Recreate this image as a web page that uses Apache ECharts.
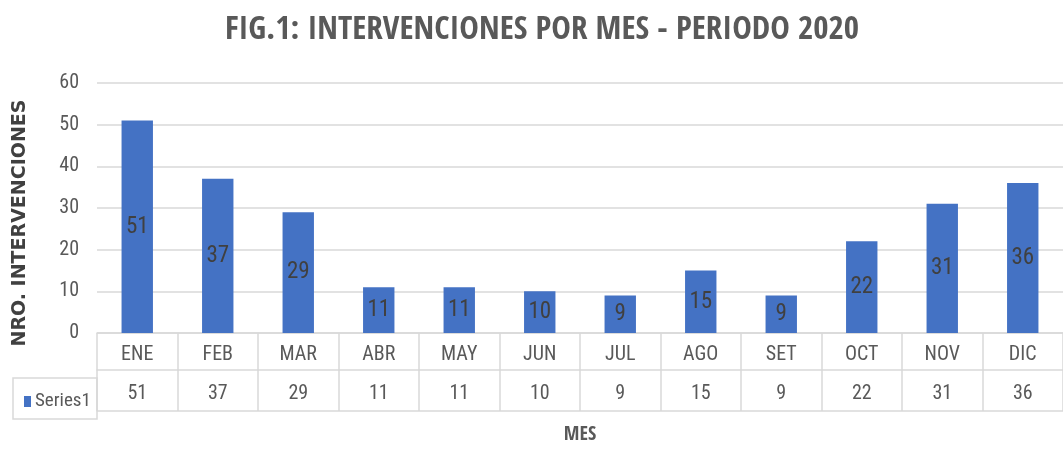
<!DOCTYPE html>
<html>
<head>
<meta charset="utf-8">
<title>Intervenciones por mes</title>
<script src="https://cdn.jsdelivr.net/npm/echarts@6/dist/echarts.min.js"></script>
<style>
  html, body { margin: 0; padding: 0; background: #fff; }
  #chart { width: 1063px; height: 450px; }
</style>
</head>
<body>
<div id="chart"></div>
<script>
  // datos de la figura
  var meses = ['ENE', 'FEB', 'MAR', 'ABR', 'MAY', 'JUN', 'JUL', 'AGO', 'SET', 'OCT', 'NOV', 'DIC'];
  var intervenciones = [51, 37, 29, 11, 11, 10, 9, 15, 9, 22, 31, 36];
  var serieNombre = 'Series1';

  var cond = '"Roboto Condensed", "Open Sans Condensed", sans-serif';
  var titulo = '"Open Sans Condensed", "Roboto Condensed", sans-serif';
  var gris = '#595959';
  var borde = '#d9d9d9';

  var chart = echarts.init(document.getElementById('chart'));

  var option = {
    animation: false,
    title: {
      text: 'FIG.1: INTERVENCIONES POR MES - PERIODO 2020',
      left: 537,
      top: 9,
      textAlign: 'center',
      textStyle: {
        fontFamily: titulo,
        fontWeight: 'bold',
        fontSize: 33,
        color: gris
      }
    },
    legend: {
      left: 19,
      top: 387,
      icon: 'rect',
      itemWidth: 7,
      itemHeight: 11,
      itemGap: 4,
      data: [serieNombre],
      textStyle: {
        fontFamily: cond,
        fontSize: 19,
        color: gris,
        padding: [0, 0, 0, -1]
      }
    },
    grid: {
      left: 97,
      right: -8,
      top: 83,
      bottom: 109,
      containLabel: false
    },
    xAxis: [
      {
        type: 'category',
        data: meses,
        position: 'bottom',
        axisLine: { show: true, lineStyle: { color: borde, width: 1.5 } },
        axisTick: { show: true, interval: 0, length: 78, lineStyle: { color: borde, width: 1.5 } },
        axisLabel: {
          margin: 12,
          interval: 0,
          fontFamily: cond,
          fontSize: 20,
          color: gris
        }
      },
      {
        // fila de valores de la tabla
        type: 'category',
        data: meses,
        position: 'bottom',
        offset: 37,
        axisLine: { show: true, lineStyle: { color: borde, width: 1.5 } },
        axisTick: { show: false },
        axisLabel: {
          margin: 14,
          interval: 0,
          fontFamily: cond,
          fontSize: 20,
          color: gris,
          formatter: function (val, idx) {
            return String(intervenciones[idx]);
          }
        }
      },
      {
        type: 'category',
        data: meses,
        position: 'bottom',
        offset: 78,
        axisLine: { show: true, lineStyle: { color: borde, width: 1.5 } },
        axisTick: { show: false },
        axisLabel: { show: false },
        name: 'MES',
        nameLocation: 'middle',
        nameGap: 14,
        nameTextStyle: {
          fontFamily: titulo,
          fontWeight: 'bold',
          fontSize: 20,
          color: gris
        }
      }
    ],
    yAxis: {
      type: 'value',
      min: 0,
      max: 60,
      interval: 10,
      axisLine: { show: false },
      axisTick: { show: false },
      splitLine: { lineStyle: { color: borde, width: 1.5 } },
      axisLabel: {
        margin: 18,
        fontFamily: cond,
        fontSize: 20,
        color: gris
      },
      name: 'NRO. INTERVENCIONES',
      nameLocation: 'middle',
      nameGap: 67,
      nameTextStyle: {
        fontFamily: '"DejaVu Sans", Verdana, sans-serif',
        fontWeight: 'bold',
        fontSize: 19,
        color: '#404040',
        padding: [0, 30, 0, 0]
      }
    },
    graphic: [
      {
        // celda de la leyenda en la tabla
        type: 'rect',
        shape: { x: 13, y: 378, width: 84, height: 41 },
        style: { fill: 'none', stroke: borde, lineWidth: 1.5 },
        silent: true
      }
    ],
    series: [
      {
        name: serieNombre,
        type: 'bar',
        data: intervenciones,
        barWidth: '39%',
        itemStyle: { color: '#4472c4' },
        label: {
          show: true,
          position: 'inside',
          fontFamily: cond,
          fontSize: 23,
          color: '#404040'
        }
      }
    ]
  };

  chart.setOption(option);
  window.onresize = function () {
    chart.resize();
  };
</script>
</body>
</html>
